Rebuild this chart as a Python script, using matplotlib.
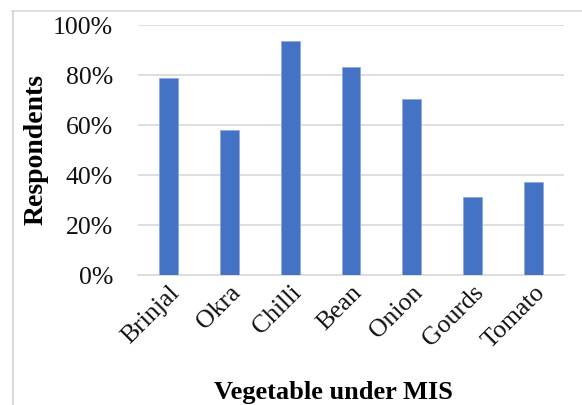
import matplotlib
matplotlib.use("Agg")
import matplotlib.pyplot as plt
from matplotlib.lines import Line2D
from matplotlib.ticker import PercentFormatter

plt.rcParams['font.family'] = ['Liberation Serif', 'DejaVu Serif']

vegetables = ["Brinjal", "Okra", "Chilli", "Bean", "Onion", "Gourds", "Tomato"]
respondents = [0.789, 0.58, 0.935, 0.831, 0.705, 0.311, 0.371]
yticks = [0, 0.2, 0.4, 0.6, 0.8, 1.0]

fig = plt.figure(figsize=(5.82, 4.06), dpi=100)
ax = fig.add_axes([138/582, 1 - 276/406, 426/582, 250/406])

x = range(len(vegetables))
ax.bar(x, respondents, width=0.31, color="#4472C4", edgecolor="#8FAADC",
       linewidth=0.6, zorder=3)

ax.set_xlim(-0.5, len(vegetables) - 0.5)
ax.set_ylim(0, 1.0)
ax.set_yticks(yticks)
ax.yaxis.set_major_formatter(PercentFormatter(1.0, decimals=0))
ax.grid(axis="y", color="#d9d9d9", linewidth=1.2, zorder=0)
for s in ["top", "right", "left"]:
    ax.spines[s].set_visible(False)
ax.spines["bottom"].set_color("#d9d9d9")
ax.spines["bottom"].set_linewidth(1.2)
ax.tick_params(axis="both", length=0, labelsize=18.5, labelcolor="#111111")
ax.tick_params(axis="y", pad=18)
ax.tick_params(axis="x", pad=4)
ax.set_xticks(list(x))
ax.set_xticklabels(vegetables, rotation=45, ha="right", rotation_mode="anchor")

fig.text(36/582, 1 - 150/406, "Respondents", rotation=90, fontsize=20,
         fontweight="bold", ha="center", va="center")
fig.text(333/582, 1 - 399/406, "Vegetable under MIS", fontsize=19,
         fontweight="bold", ha="center", va="baseline")

# outer chart border (top and left visible)
fig.add_artist(Line2D([12/582, 1], [1 - 12/406, 1 - 12/406], color="#d9d9d9",
                      linewidth=1.2, transform=fig.transFigure))
fig.add_artist(Line2D([12.5/582, 12.5/582], [0, 1 - 12/406], color="#d9d9d9",
                      linewidth=1.5, transform=fig.transFigure))

fig.savefig("out.png", dpi=100)
